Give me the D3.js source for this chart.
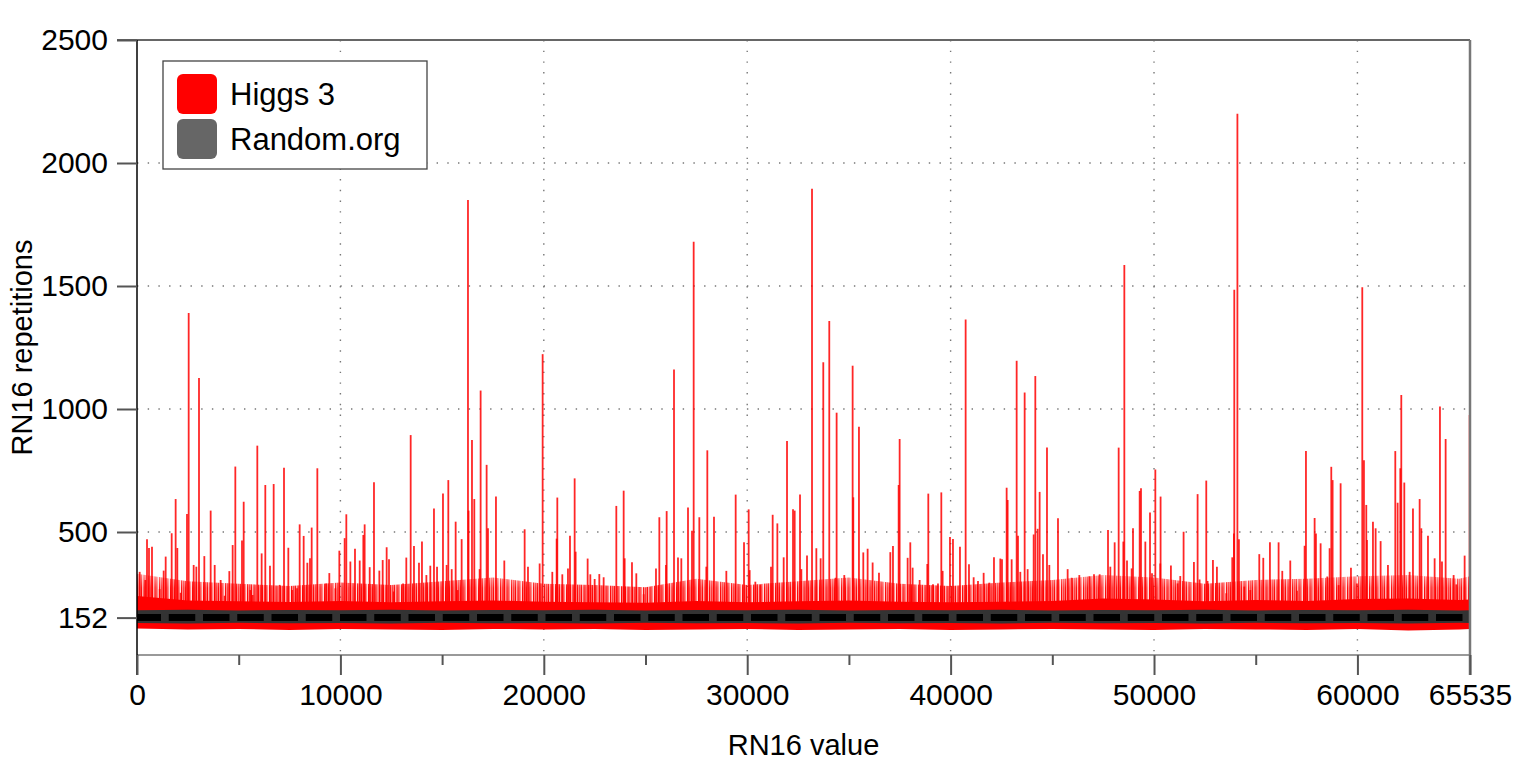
<!doctype html>
<html>
<head>
<meta charset="utf-8">
<title>RN16</title>
<script src="https://cdn.jsdelivr.net/npm/d3@7"></script>
<style>
body { margin: 0; background: #fff; }
text { font-family: "Liberation Sans", Arial, Helvetica, sans-serif; fill: #000; }
</style>
</head>
<body>
<svg width="1515" height="763"></svg>
<script>
// tick values
var xTicks = [0, 10000, 20000, 30000, 40000, 50000, 60000, 65535];
var xMinorTicks = [5000, 15000, 25000, 35000, 45000, 55000];
var yTicks = [152, 500, 1000, 1500, 2000, 2500];
var gridX = [10000, 20000, 30000, 40000, 50000, 60000];
var gridY = [500, 1000, 1500, 2000];

// Higgs 3: dense band near the mean
var bandX = [0, 2500, 5000, 7500, 10000, 12500, 15000, 17500, 20000, 22500, 25000, 27500, 30000, 32500,
  35000, 37500, 40000, 42500, 45000, 47500, 50000, 52500, 55000, 57500, 60000, 62500, 65000, 65535];
var bandTop = [240, 222, 218, 215, 220, 214, 218, 222, 216, 214, 212, 220, 214, 218,
  222, 216, 214, 216, 220, 230, 226, 218, 224, 220, 228, 230, 224, 226];
var fringeTop = [330, 300, 290, 280, 295, 285, 300, 315, 290, 285, 275, 310, 285, 300,
  315, 290, 280, 295, 305, 325, 315, 290, 305, 310, 320, 325, 310, 320];
var bandLow = [108, 104, 106, 102, 106, 104, 102, 106, 104, 106, 102, 104, 106, 102,
  104, 106, 102, 104, 106, 104, 102, 106, 104, 102, 106, 100, 104, 106];

// Higgs 3: individual spikes (RN16 value, repetitions)
var spikeX = [131, 410, 492, 590, 737, 1115, 1311, 1410, 1705, 1900, 1983, 2147, 2458, 2541, 2786, 2917, 3048,
  3310, 3622, 3820, 4114, 4311, 4539, 4703, 4834, 5162, 5245, 5573, 5687, 5915, 6128, 6308, 6538, 6719,
  7014, 7227, 7440, 7621, 7867, 7997, 8194, 8374, 8505, 8588, 8866, 9293, 9455, 9752, 9947, 10209, 10291,
  10490, 10717, 10949, 11127, 11192, 11440, 11651, 11914, 12079, 12274, 12389, 12620, 13079, 13240, 13455,
  13617, 13863, 14010, 14227, 14420, 14600, 14751, 15043, 15223, 15305, 15472, 15666, 15767, 15961, 16272,
  16300, 16469, 16583,
  16845, 16894, 17189, 17255, 17648, 18058, 19058, 19222, 19795, 19943, 20418, 20631, 20664, 20910, 21188,
  21287, 21516, 21565, 22155, 22287, 22500, 22729, 22942, 23565, 23926, 23975, 24335, 24548, 24909, 25515,
  25680, 26007, 26040, 26401, 26597, 26761, 27089, 27286, 27368, 27646, 27990, 28039, 28367, 28974, 29433,
  29843, 30072, 30121, 30400, 30646, 31170, 31252, 31482, 31793, 31957, 32252, 32334, 32596, 32662, 32940,
  33186, 33399,
  33609, 33740, 34035, 34347, 34396, 34773, 35183, 35216, 35494, 35707, 35920, 36166, 36478, 37035, 37166,
  37445, 37494, 37887, 38018, 38133, 38477, 38854, 38903, 39133, 39379, 39543, 39608, 39969, 40116, 40460,
  40739, 40903, 41133, 41346, 41624, 41903, 42132, 42444, 42526, 42755, 42804, 43001, 43247, 43312, 43427,
  43640, 43787, 44083, 44164, 44279, 44377, 44541, 44738, 44853, 45279, 45754, 45951, 46328, 46820, 47049,
  47328, 47738, 47852, 48065, 48262, 48492, 48541, 48672, 48901, 48967, 49295, 49360, 49573, 49803, 49901,
  50065,
  50307, 50323, 50831, 51159, 51290, 51454, 51962, 52143, 52241, 52569, 52634, 52897, 53093, 53552, 53847,
  53929, 53946, 54100, 54175, 54437, 54732, 55175, 55372, 55699, 56125, 56306, 56699, 57027, 57404, 57470,
  57896, 57961, 58191, 58518, 58633, 58715, 58781, 59076, 59174, 59682, 59977, 60239, 60321, 60436, 60469,
  60764, 60895, 61141, 61501, 61862, 61977, 62108, 62157, 62305, 62567, 62731, 63059, 63141, 63469, 63796,
  64058, 64157, 64337, 64730, 64861, 65271, 65517];
var spikeY = [338, 305, 471, 435, 440, 268, 343, 400, 495, 634, 435, 253, 573, 1390, 366, 359, 1126,
  402, 587, 366, 305, 241, 341, 447, 766, 465, 623, 264, 244, 851, 413, 691, 363, 695,
  285, 761, 436, 264, 271, 531, 484, 375, 393, 518, 759, 291, 333, 271, 424, 475, 572,
  380, 432, 384, 488, 531, 357, 702, 343, 386, 438, 389, 258, 291, 396, 894,
  443, 375, 461, 325, 363, 596, 359, 657, 366, 711, 349, 542, 264, 471, 1850,
  587, 874, 634,
  349, 1075, 773, 515, 644, 384, 511, 359, 372, 1223, 338, 473, 640, 328, 352,
  485, 718, 420, 392, 328, 309, 329, 316, 606, 668, 393, 377, 332, 247, 352,
  560, 366, 585, 1161, 396, 393, 600, 505, 1680, 560, 359, 832, 562, 342, 652,
  458, 592, 345, 298, 284, 359, 570, 535, 397, 870, 592, 587, 652, 349, 404,
  1895, 434,
  393, 1190, 1358, 314, 985, 325, 1176, 641, 928, 417, 432, 376, 334, 418, 443,
  691, 878, 395, 458, 355, 305, 370, 656, 288, 291, 661, 342, 480, 472, 440,
  1364, 369, 316, 301, 334, 294, 397, 392, 389, 680, 630, 389, 1196, 485, 338,
  1067, 349, 490, 1134, 513, 663, 410, 843, 366, 556, 349, 314, 325, 320, 328,
  328, 508, 359, 458, 843, 461, 1585, 384, 352, 515, 667, 678, 461, 579, 332,
  754,
  372, 644, 364, 291, 321, 501, 378, 654, 307, 709, 301, 386, 359, 251, 397,
  494, 1485, 2200, 471, 278, 264, 410, 395, 458, 458, 342, 384, 261, 444, 829,
  557, 494, 454, 319, 434, 765, 711, 284, 698, 355, 291, 1495, 792, 610, 467,
  542, 515, 463, 366, 829, 619, 759, 1057, 701, 338, 596, 634, 515, 485, 393,
  1010, 380, 878, 325, 287, 404, 976];

// Random.org: band around its mean
var randomMean = 152;
var randomLow = [130, 128, 131, 129, 130, 128, 131, 129, 130, 128, 131, 129, 130, 128,
  131, 129, 130, 128, 131, 129, 130, 128, 131, 129, 130, 128, 131, 130];
var randomHigh = [182, 184, 181, 183, 182, 184, 181, 183, 182, 184, 181, 183, 182, 184,
  181, 183, 182, 184, 181, 183, 182, 184, 181, 183, 182, 184, 181, 182];

var seriesNames = ["Higgs 3", "Random.org"];
var seriesColors = ["#ff0000", "#666666"];

var svg = d3.select("svg"),
    margin = { top: 40, right: 45, bottom: 108, left: 137 },
    width = 1515 - margin.left - margin.right,
    height = 763 - margin.top - margin.bottom,
    g = svg.append("g").attr("transform", "translate(" + margin.left + "," + margin.top + ")");

var x = d3.scaleLinear().domain([0, 65535]).range([0, width]);
var y = d3.scaleLinear().domain([0, 2500]).range([height, 0]);

// dotted grid
g.append("g").selectAll("line").data(gridX).enter().append("line")
    .attr("x1", x).attr("x2", x).attr("y1", 0).attr("y2", height)
    .attr("stroke", "#777").attr("stroke-width", 1.4).attr("stroke-dasharray", "1.4,9.3");
g.append("g").selectAll("line").data(gridY).enter().append("line")
    .attr("y1", y).attr("y2", y).attr("x1", 0).attr("x2", width)
    .attr("stroke", "#777").attr("stroke-width", 1.4).attr("stroke-dasharray", "1.4,9.3");

var bandIdx = d3.range(bandX.length);

// hatch texture for the fringe of small spikes, fading upwards
var defs = svg.append("defs");
var pat = defs.append("pattern").attr("id", "hatch")
    .attr("patternUnits", "userSpaceOnUse").attr("width", 11).attr("height", 20);
[[0, 1.5, 1], [2.0, 1.0, 0.8], [3.4, 1.8, 1], [5.8, 1.0, 0.85], [7.2, 1.5, 1], [9.3, 0.9, 0.7]]
    .forEach(function(r) {
        pat.append("rect").attr("x", r[0]).attr("width", r[1]).attr("height", 20)
            .attr("fill", "#ff0000").attr("fill-opacity", r[2]);
    });
var fadeGrad = defs.append("linearGradient").attr("id", "fadeGrad")
    .attr("gradientUnits", "userSpaceOnUse")
    .attr("x1", 0).attr("x2", 0).attr("y1", y(215)).attr("y2", y(330));
fadeGrad.append("stop").attr("offset", 0).attr("stop-color", "#fff");
fadeGrad.append("stop").attr("offset", 0.5).attr("stop-color", "#eee");
fadeGrad.append("stop").attr("offset", 1).attr("stop-color", "#777");
defs.append("mask").attr("id", "fade").attr("maskUnits", "userSpaceOnUse")
    .attr("x", 0).attr("y", 0).attr("width", width).attr("height", height)
  .append("rect").attr("width", width).attr("height", height).attr("fill", "url(#fadeGrad)");

g.append("path").datum(bandIdx)
    .attr("fill", "url(#hatch)").attr("mask", "url(#fade)")
    .attr("d", d3.area().x(function(i) { return x(bandX[i]); })
        .y0(function(i) { return y(bandTop[i] - 10); })
        .y1(function(i) { return y(fringeTop[i]); }));

// spikes
g.append("g").selectAll("line").data(d3.range(spikeX.length)).enter().append("line")
    .attr("x1", function(i) { return x(spikeX[i]); })
    .attr("x2", function(i) { return x(spikeX[i]); })
    .attr("y1", y(200))
    .attr("y2", function(i) { return y(spikeY[i]); })
    .attr("stroke", "#ff0000").attr("stroke-width", 1.8).attr("stroke-opacity", 0.85);

// solid band
g.append("path").datum(bandIdx)
    .attr("fill", "#ff0000")
    .attr("d", d3.area().x(function(i) { return x(bandX[i]); })
        .y0(function(i) { return y(bandLow[i]); })
        .y1(function(i) { return y(bandTop[i]); }));

// random.org band
g.append("path").datum(bandIdx)
    .attr("fill", "#333")
    .attr("d", d3.area().x(function(i) { return x(bandX[i]); })
        .y0(function(i) { return y(randomLow[i]); })
        .y1(function(i) { return y(randomHigh[i]); }));

g.append("line")
    .attr("x1", x(0)).attr("x2", x(65535))
    .attr("y1", y(randomMean)).attr("y2", y(randomMean))
    .attr("stroke", "#000").attr("stroke-width", 7)
    .attr("stroke-dasharray", "26.5,7.75").attr("stroke-dashoffset", 2.5);

// frame
g.append("line").attr("x1", -20).attr("x2", width).attr("y1", 0).attr("y2", 0)
    .attr("stroke", "#666").attr("stroke-width", 2);
g.append("line").attr("x1", width).attr("x2", width).attr("y1", 0).attr("y2", height + 20)
    .attr("stroke", "#777").attr("stroke-width", 2.5);
g.append("line").attr("x1", 0).attr("x2", width).attr("y1", height).attr("y2", height)
    .attr("stroke", "#777").attr("stroke-width", 1.5);
g.append("line").attr("x1", 0).attr("x2", 0).attr("y1", 0).attr("y2", height + 20)
    .attr("stroke", "#000").attr("stroke-width", 1.5);

// axes
g.append("g").attr("transform", "translate(0," + height + ")")
    .call(d3.axisBottom(x).tickValues(xTicks).tickFormat(d3.format("d")).tickSize(20).tickPadding(9));
g.append("g").attr("transform", "translate(0," + height + ")")
    .call(d3.axisBottom(x).tickValues(xMinorTicks).tickFormat("").tickSize(10));
g.append("g")
    .call(d3.axisLeft(y).tickValues(yTicks).tickFormat(d3.format("d")).tickSize(20).tickPadding(9));

g.selectAll(".domain").remove();
g.selectAll(".tick line").attr("stroke", "#555").attr("stroke-width", 2);
g.selectAll(".tick text").style("font-size", "30px").attr("fill", "#000")
    .style("font-family", "'Liberation Sans', Arial, Helvetica, sans-serif");

// axis titles
g.append("text").attr("x", width / 2).attr("y", height + 100)
    .attr("text-anchor", "middle").style("font-size", "29px").text("RN16 value");
g.append("text").attr("transform", "translate(-105," + (height / 2) + ") rotate(-90)")
    .attr("text-anchor", "middle").style("font-size", "29px").text("RN16 repetitions");

// legend
var legend = g.append("g").attr("transform", "translate(26,21)");
legend.append("rect").attr("width", 264).attr("height", 108)
    .attr("fill", "#fff").attr("stroke", "#444").attr("stroke-width", 1.3);
legend.selectAll("g").data(seriesNames).enter().append("g")
    .attr("transform", function(d, i) { return "translate(14," + (13 + i * 45) + ")"; })
    .each(function(d, i) {
        var s = d3.select(this);
        s.append("rect").attr("width", 40).attr("height", 40).attr("rx", 6)
            .attr("fill", seriesColors[i]);
        s.append("text").attr("x", 53).attr("y", 31).style("font-size", "31px").text(d);
    });
</script>
</body>
</html>
